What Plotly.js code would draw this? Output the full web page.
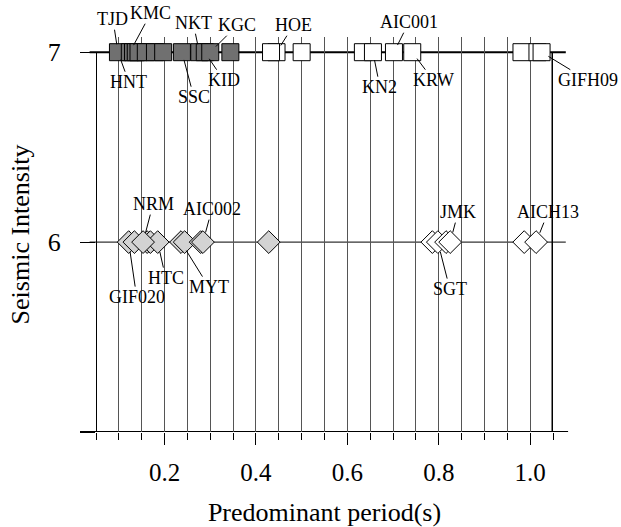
<!DOCTYPE html>
<html>
<head>
<meta charset="utf-8">
<script src="https://cdn.plot.ly/plotly-3.0.1.min.js"></script>
<style>html,body{margin:0;padding:0;background:#fff;}#chart{width:621px;height:527px;}</style>
</head>
<body>
<div id="chart"></div>
<script>
// Intensity 7 stations (squares)
const sqGrayX  = [0.098, 0.124, 0.131, 0.137, 0.143, 0.159, 0.179, 0.197, 0.238, 0.276, 0.288, 0.300, 0.344];
const sqWhiteX = [0.445, 0.433, 0.500, 0.634, 0.656, 0.702, 0.742, 0.981, 1.016, 1.025];
// Intensity 6 stations (diamonds)
const diaGrayX  = [0.1215, 0.134, 0.162, 0.169, 0.185, 0.153, 0.236, 0.244, 0.279, 0.284, 0.428];
const diaWhiteX = [0.786, 0.798, 0.816, 0.825, 0.987, 1.013];
const xTickVals = [0.2, 0.4, 0.6, 0.8, 1.0];
const xTickText = ['0.2', '0.4', '0.6', '0.8', '1.0'];
const yTickVals = [5, 6, 7];
const yTickText = ['', '6', '7'];

const labels = [
  ['TJD', sqGrayX[0], 7], ['KMC', sqGrayX[1], 7], ['HNT', sqGrayX[0], 7],
  ['NKT', sqGrayX[9], 7], ['KGC', sqGrayX[11], 7], ['SSC', sqGrayX[8], 7], ['KID', sqGrayX[10], 7],
  ['HOE', sqWhiteX[0], 7], ['AIC001', sqWhiteX[5], 7], ['KN2', sqWhiteX[4], 7], ['KRW', sqWhiteX[6], 7],
  ['GIFH09', sqWhiteX[9], 7],
  ['NRM', diaGrayX[5], 6], ['AIC002', diaGrayX[9], 6], ['GIF020', diaGrayX[0], 6], ['HTC', diaGrayX[4], 6],
  ['MYT', diaGrayX[6], 6], ['SGT', diaWhiteX[1], 6], ['JMK', diaWhiteX[3], 6], ['AICH13', diaWhiteX[5], 6]
];
// label text offsets (pixels), styling only
const offsets = {
  TJD:[-5,-33], KMC:[21,-39], HNT:[11,30], NKT:[-6,-29], KGC:[27,-27], SSC:[12,45], KID:[19,28],
  HOE:[17,-27], AIC001:[15,-30], KN2:[7,35], KRW:[21,28], GIFH09:[46,28],
  NRM:[10,-38], AIC002:[9,-33], GIF020:[8,55], HTC:[8,36], MYT:[28,45], SGT:[12,47], JMK:[8,-30], AICH13:[12,-30]
};

const serif = 'Liberation Serif';

const sqLine = {color:'#000', width:1};
const traces = [
  {x: sqGrayX, y: sqGrayX.map(()=>7), type:'scatter', mode:'markers', cliponaxis:false,
   marker:{symbol:'square', size:17, color:'#707070', line:sqLine}},
  {x: sqWhiteX, y: sqWhiteX.map(()=>7), type:'scatter', mode:'markers', cliponaxis:false,
   marker:{symbol:'square', size:17, color:'#ffffff', line:sqLine}},
  {x: diaGrayX, y: diaGrayX.map(()=>6), type:'scatter', mode:'markers', cliponaxis:false,
   marker:{symbol:'diamond', size:17.5, color:'#d3d3d3', line:sqLine}},
  {x: diaWhiteX, y: diaWhiteX.map(()=>6), type:'scatter', mode:'markers', cliponaxis:false,
   marker:{symbol:'diamond', size:17.5, color:'#ffffff', line:sqLine}}
];

const annotations = labels.map(([t,x,y]) => ({
  text: t, x: x, y: y, xref:'x', yref:'y', showarrow:true, arrowhead:0, arrowwidth:1,
  arrowcolor:'#000', ax: offsets[t][0], ay: offsets[t][1], standoff: (y===7?8:10), borderpad:0,
  font:{family:serif, size:18, color:'#000'}
}));

const shapes = [
  {type:'line', xref:'paper', yref:'y', x0:-0.014, x1:1.028, y0:7, y1:7, line:{color:'#000', width:2}, layer:'between'},
  {type:'line', xref:'paper', yref:'y', x0:-0.014, x1:1.028, y0:6, y1:6, line:{color:'#000', width:1}, layer:'between'},
  {type:'line', xref:'paper', yref:'y', x0:-0.035, x1:1.033, y0:5, y1:5, line:{color:'#000', width:2}, layer:'between'},
  {type:'line', xref:'x', yref:'y', x0:0.05, x1:0.05, y0:5, y1:7, line:{color:'#000', width:2}, layer:'between'},
  {type:'line', xref:'x', yref:'y', x0:1.05, x1:1.05, y0:5, y1:7, line:{color:'#000', width:3}, layer:'between'}
];

const layout = {
  width:621, height:527,
  margin:{l:96, r:68, t:37, b:95},
  paper_bgcolor:'#fff', plot_bgcolor:'#fff',
  showlegend:false,
  font:{family:serif, color:'#000'},
  xaxis:{
    range:[0.05, 1.05], tickvals:xTickVals, ticktext:xTickText,
    ticks:'outside', ticklen:12, tickwidth:1, tickcolor:'#000',
    showgrid:true, gridcolor:'#555', gridwidth:1, zeroline:false, showline:false,
    minor:{tick0:0.05, dtick:0.05, ticks:'outside', ticklen:7, tickwidth:1, tickcolor:'#000',
           showgrid:true, gridcolor:'#555', gridwidth:1},
    tickfont:{family:serif, size:25, color:'#000'}, ticklabelstandoff:6,
    title:{text:'Predominant period(s)', font:{family:serif, size:26, color:'#000'}, standoff:18}
  },
  yaxis:{
    range:[5, 7.08], tickvals:yTickVals, ticktext:yTickText,
    ticks:'outside', ticklen:15, tickwidth:1, tickcolor:'#000',
    showgrid:false, zeroline:false, showline:false,
    tickfont:{family:serif, size:26, color:'#000'}, ticklabelstandoff:14,
    title:{text:'Seismic Intensity', font:{family:serif, size:26, color:'#000'}, standoff:10}
  },
  shapes: shapes,
  annotations: annotations
};

Plotly.newPlot('chart', traces, layout, {displayModeBar:false, staticPlot:true});
</script>
</body>
</html>
